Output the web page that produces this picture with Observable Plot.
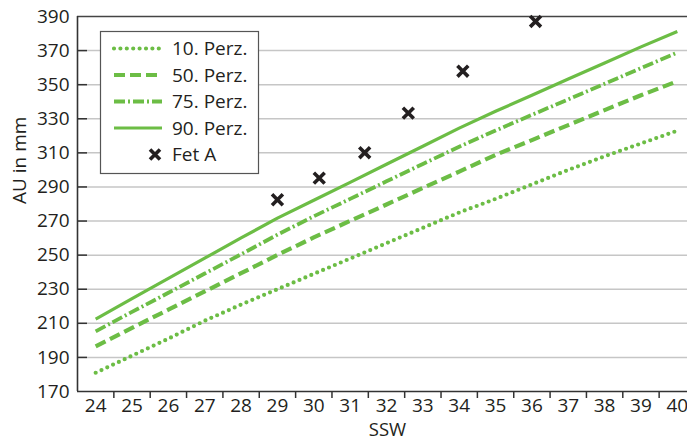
<!DOCTYPE html>
<html>
<head>
<meta charset="utf-8">
<script src="https://cdn.jsdelivr.net/npm/d3@7"></script>
<script src="https://cdn.jsdelivr.net/npm/@observablehq/plot@0.6"></script>
<style>
  html, body { margin: 0; padding: 0; background: #fff; overflow: hidden; }
  #chart { width: 687px; height: 440px; overflow: hidden; }
</style>
</head>
<body>
<div id="chart"></div>
<script>
// ---- data ----
const weeks = [24, 25, 26, 27, 28, 29, 30, 31, 32, 33, 34, 35, 36, 37, 38, 39, 40];
const p10 = [181, 191, 201, 211.5, 221, 230, 239, 248, 257, 266, 275, 283, 291.5, 300, 308, 315.5, 323];
const p50 = [196.5, 207.3, 218, 228.7, 239.4, 250.1, 260.4, 270.1, 279.7, 289.4, 299, 308.8, 317.5, 326.3, 335.1, 343.8, 352];
const p75 = [205.3, 216.7, 227.9, 239.2, 250.5, 262, 272.8, 283, 293.3, 303.5, 313.6, 323.1, 332.3, 341.4, 350.5, 359.7, 368.8];
const p90 = [212.5, 224.5, 236.4, 248.2, 260.1, 271.7, 282.2, 292.7, 303.3, 313.9, 324.5, 334.4, 343.8, 353.3, 362.7, 372.2, 381.2];
const fetWeeks = [29.0, 30.15, 31.4, 32.6, 34.1, 36.1];
const fetValues = [282.5, 295.2, 310.1, 333.3, 357.9, 387.1];
const yTicks = [170, 190, 210, 230, 250, 270, 290, 310, 330, 350, 370, 390];
const seriesNames = ["10. Perz.", "50. Perz.", "75. Perz.", "90. Perz.", "Fet A"];

// ---- styles ----
const green = "#6cbd45";
const ink = "#231f20";
const font = "'Open Sans', 'DejaVu Sans', sans-serif";
const styles = {
  "10. Perz.": {strokeWidth: 4.2, strokeDasharray: "0,6.4", strokeLinecap: "round"},
  "50. Perz.": {strokeWidth: 4.2, strokeDasharray: "11,5", strokeLinecap: "butt"},
  "75. Perz.": {strokeWidth: 3.8, strokeDasharray: "11,3,2,3", strokeLinecap: "butt"},
  "90. Perz.": {strokeWidth: 3.2, strokeDasharray: null, strokeLinecap: "butt"}
};

const series = [p10, p50, p75, p90];
const lineData = series.map((vals, s) => weeks.map((w, i) => ({w, v: vals[i], name: seriesNames[s]})));
const fet = fetWeeks.map((w, i) => ({w, v: fetValues[i]}));
const halfTicks = weeks.slice(0, -1).map(w => w + 0.5);

const W = 687, H = 440;
const xRange = [77, 695];
const pxPerWeek = (xRange[1] - xRange[0]) / 17;

const marks = [
  Plot.gridY(yTicks.filter(t => t > 170 && t < 390), {stroke: "#c6c6c6", strokeOpacity: 1, strokeWidth: 1.5}),
  Plot.ruleY(yTicks.filter(t => t > 170 && t < 390), {x1: 23.5, x2: 23.5 + 10 / pxPerWeek, stroke: "#333", strokeWidth: 1.5}),
  Plot.ruleY([390], {stroke: "#444", strokeWidth: 1.3}),
  Plot.ruleY([170], {stroke: "#333", strokeWidth: 1.6}),
  Plot.ruleX([23.5], {stroke: "#333", strokeWidth: 1.6}),
  Plot.axisY({ticks: yTicks, tickSize: 0, tickPadding: 8, fontSize: 19, label: null, fill: ink}),
  Plot.axisX({ticks: weeks, tickSize: 0, tickPadding: 7, fontSize: 19, label: null, tickFormat: d => String(d), fill: ink}),
  Plot.axisX({ticks: halfTicks, tickSize: 7, tickFormat: () => "", label: null, stroke: "#333", strokeWidth: 1.5}),
  Plot.text(["SSW"], {frameAnchor: "bottom", lineAnchor: "middle", dy: 39, dx: 5, text: d => d, fontSize: 18.5, fill: ink}),
  Plot.text(["AU in mm"], {frameAnchor: "left", dx: -58, rotate: -90, text: d => d, fontSize: 19, fill: ink}),
  ...lineData.map((d, s) => Plot.line(d, {x: "w", y: "v", stroke: green, ...styles[seriesNames[s]]})),
  Plot.dot(fet, {x: "w", y: "v", symbol: "times", r: 5, stroke: ink, strokeWidth: 3.6})
];

const chart = Plot.plot({
  width: W,
  height: H,
  marginLeft: 77,
  marginRight: 0,
  marginTop: 16,
  marginBottom: 49,
  style: {fontFamily: font, fontSize: "19px", color: ink, background: "#fff"},
  x: {domain: [23.5, 40.5], range: xRange, axis: null},
  y: {domain: [170, 390], range: [391, 16], axis: null},
  marks
});

// ---- legend (inside plot area) ----
const svg = d3.select(chart);
const lg = svg.append("g").attr("font-family", font).attr("font-size", 19)
  .attr("fill", ink).attr("text-anchor", "start");
lg.append("rect").attr("x", 100.5).attr("y", 31.5).attr("width", 158).attr("height", 142)
  .attr("fill", "#fff").attr("stroke", "#555").attr("stroke-width", 1.2);
seriesNames.forEach((name, i) => {
  const y = 48.5 + 26.5 * i;
  if (styles[name]) {
    const st = styles[name];
    lg.append("line").attr("x1", 114).attr("x2", 162).attr("y1", y).attr("y2", y)
      .attr("stroke", green).attr("stroke-width", st.strokeWidth)
      .attr("stroke-dasharray", st.strokeDasharray)
      .attr("stroke-linecap", st.strokeLinecap);
  } else {
    const r = 5;
    lg.append("path").attr("d", `M${155 - r},${y - r}L${155 + r},${y + r}M${155 - r},${y + r}L${155 + r},${y - r}`)
      .attr("stroke", ink).attr("stroke-width", 3.6).attr("fill", "none");
  }
  lg.append("text").attr("x", 172).attr("y", y).attr("dy", "0.35em").attr("text-anchor", "start").text(name);
});

document.getElementById("chart").appendChild(chart);
</script>
</body>
</html>
